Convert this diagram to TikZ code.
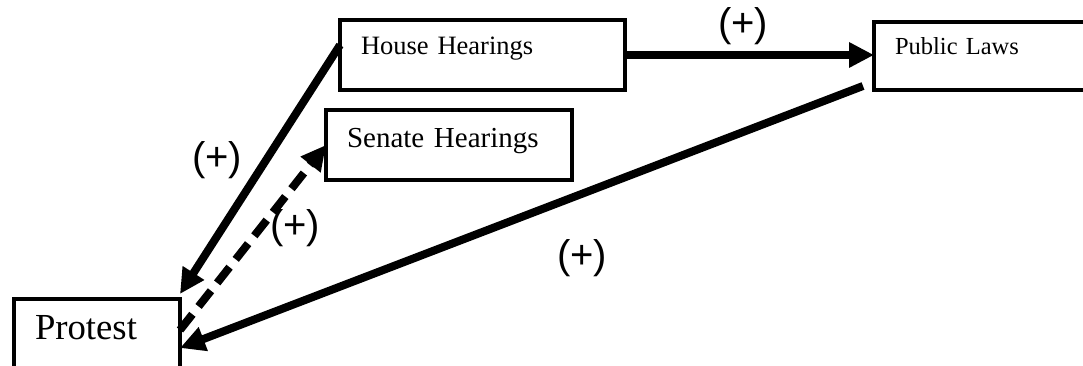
\documentclass[tikz,border=0pt]{standalone}
\usepackage{fontspec}
\setmainfont{Liberation Serif}
\setsansfont{Liberation Sans}
\usetikzlibrary{positioning}
\usetikzlibrary{calc}
\usetikzlibrary{arrows.meta}

\tikzset{
	box/.style={draw, line width=4pt, inner ysep=0pt, inner xsep=21pt, outer sep=0pt, anchor=north west, align=left},
	link/.style={line width=8pt, -{Triangle[length=25pt,width=24pt]}},
	sign/.style={font=\sffamily\fontsize{40}{40}\selectfont},
}

\begin{document}
\begin{tikzpicture}[x=1pt,y=1pt]
	\useasboundingbox (0,0) rectangle (1083,366);
	% boxes
	\node[box, text width=243pt, text height=35pt, text depth=35pt, font=\fontsize{26.5}{30}\selectfont] (house) at (340,346) {House Hearings};
	\node[box, text width=204pt, text height=38pt, text depth=32pt, font=\fontsize{29}{32}\selectfont] (senate) at (326,256) {Senate Hearings};
	\node[box, text width=194pt, text height=33pt, text depth=35pt, font=\fontsize{24.5}{28}\selectfont] (public) at (874,344) {Public Laws};
	\node[box, text width=124pt, text height=41pt, text depth=55pt, font=\fontsize{36.7}{40}\selectfont] (protest) at (14,67) {Protest};
	% arrows
	\draw[link] ($(house.north west)+(0,-25)$) -- ($(protest.north east)+(0,5)$);
	\draw[link, dash pattern=on 20pt off 10pt] ($(protest.north east)+(0,-31)$) -- ($(senate.north west)+(0,-35)$);
	\draw[link] (house.east) -- (house.east -| public.west);
	\draw[link] ($(public.south west)+(-11,4)$) -- ($(protest.north east)+(0,-49)$);
	% signs
	\node[sign] (hp) at (743,340) {(+)};
	\node[sign] (hpr) at (217,206) {(+)};
	\node[sign] (ps) at (295,138) {(+)};
	\node[sign] (ppr) at (582,108) {(+)};
\end{tikzpicture}
\end{document}
